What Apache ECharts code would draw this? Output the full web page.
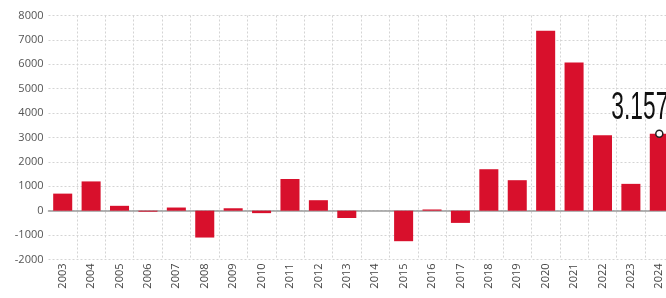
<!DOCTYPE html>
<html lang="en">
<head>
    <meta charset="UTF-8">
    <title>Yearly values 2003-2024</title>
    <script src="https://cdn.jsdelivr.net/npm/echarts@6/dist/echarts.min.js"></script>
    <style>
        html, body { margin: 0; padding: 0; background: #fff; overflow: hidden; }
        #chart { width: 666px; height: 298px; }
    </style>
</head>
<body>
<div id="chart"></div>
<script>
    // Data
    var years = ['2003', '2004', '2005', '2006', '2007', '2008', '2009', '2010', '2011', '2012', '2013',
                 '2014', '2015', '2016', '2017', '2018', '2019', '2020', '2021', '2022', '2023', '2024'];
    var values = [700, 1200, 200, -40, 130, -1100, 100, -100, 1300, 430, -300,
                  0, -1250, 50, -500, 1700, 1250, 7370, 6070, 3090, 1100, 3157];
    var highlightValue = [null, null, null, null, null, null, null, null, null, null, null,
                          null, null, null, null, null, null, null, null, null, null, 3157];
    var highlightText = '3.157';

    var chart = echarts.init(document.getElementById('chart'));
    var dotted = { color: '#d4d4d4', type: [2, 2], width: 1 };

    chart.setOption({
        animation: false,
        // plot runs a little past the right edge (2024 bar is cut off)
        grid: { left: 48.5, width: 625, top: 15.5, bottom: 38.5, containLabel: false, outerBoundsMode: 'none' },
        xAxis: {
            type: 'category',
            data: years,
            axisLine: { onZero: true, lineStyle: { color: '#9a9a9a', width: 1.5 } },
            axisTick: { show: false },
            axisLabel: {
                rotate: 90, color: '#444', fontSize: 11, fontFamily: 'Open Sans', margin: 4,
                interval: 0
            },
            splitLine: { show: true, showMinLine: false, lineStyle: dotted }
        },
        yAxis: {
            type: 'value',
            min: -2000, max: 8000, interval: 1000,
            axisLine: { show: false },
            axisTick: { show: false },
            axisLabel: {
                color: '#555', fontSize: 11, fontFamily: 'Open Sans', margin: 5,
                formatter: function (v) { return String(v); }
            },
            splitLine: { lineStyle: dotted }
        },
        series: [
            {
                type: 'bar',
                data: values,
                barCategoryGap: '33%',
                itemStyle: { color: '#d8102c' }
            },
            {
                type: 'scatter',
                data: highlightValue,
                symbol: 'circle',
                symbolSize: 7,
                itemStyle: { color: '#fff', borderColor: '#222', borderWidth: 1.5, opacity: 1 },
                z: 5
            }
        ]
    });

    // big condensed annotation placed from the axis scale
    var idx = highlightValue.length - 1;
    var pt = chart.convertToPixel({ gridIndex: 0 }, [years[idx], highlightValue[idx]]);
    chart.setOption({
        graphic: [{
            type: 'text',
            x: pt[0] - 48,
            y: pt[1] - 6,
            scaleX: 0.6,
            z: 10,
            style: {
                text: highlightText,
                font: '38px "Liberation Sans", sans-serif',
                fill: '#111',
                textAlign: 'left',
                textVerticalAlign: 'bottom'
            }
        }]
    });
</script>
</body>
</html>
